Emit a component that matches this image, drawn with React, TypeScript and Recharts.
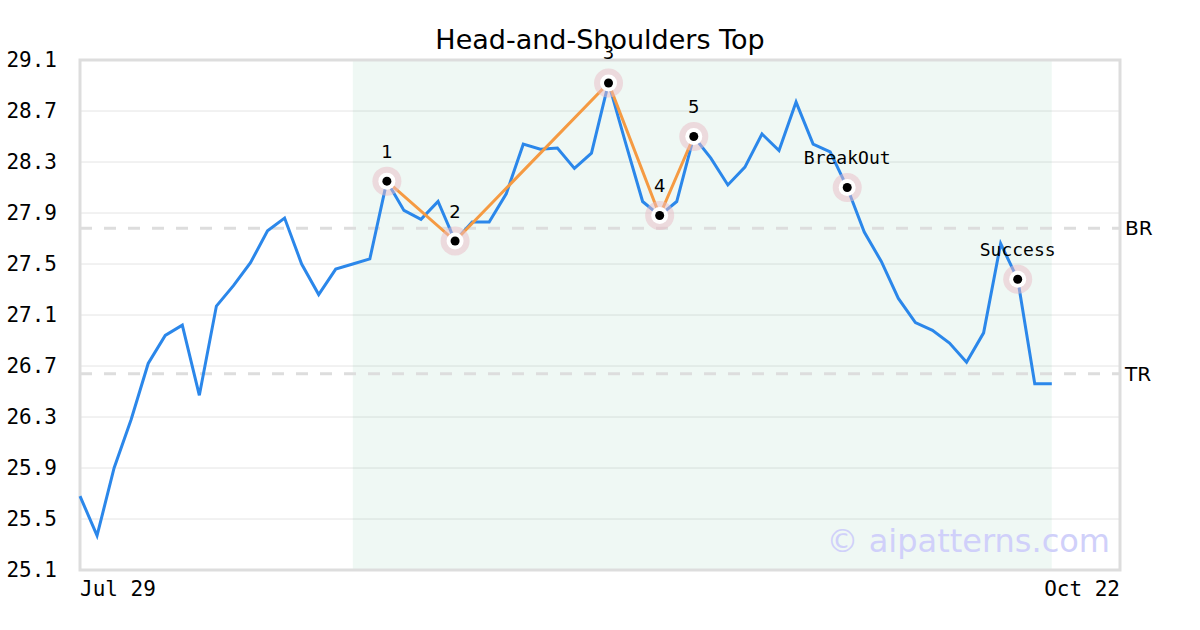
import React from "react";
import {
  ComposedChart,
  Line,
  Scatter,
  XAxis,
  YAxis,
  CartesianGrid,
  ReferenceArea,
  ReferenceLine,
} from "recharts";

// daily closes, Jul 29 onward (index = trading day)
const prices = [
  25.68, 25.37, 25.9, 26.28, 26.72, 26.94, 27.02, 26.47, 27.17, 27.33,
  27.51, 27.76, 27.86, 27.5, 27.26, 27.46, 27.5, 27.54, 28.15, 27.92,
  27.85, 27.99, 27.68, 27.83, 27.83, 28.05, 28.44, 28.4, 28.41, 28.25,
  28.37, 28.92, 28.45, 27.99, 27.88, 27.99, 28.5, 28.33, 28.12, 28.26,
  28.52, 28.39, 28.77, 28.44, 28.38, 28.1, 27.75, 27.52, 27.23, 27.04,
  26.98, 26.88, 26.73, 26.96, 27.66, 27.38, 26.56, 26.56,
];

const patternIdx = [18, 22, 31, 34, 36];
const markerIdx = [18, 22, 31, 34, 36, 45, 55];
const markerLabels = ["1", "2", "3", "4", "5", "BreakOut", "Success"];

const xTicks = [0, 61];
const xTickLabels = ["Jul 29", "Oct 22"];
const yTicks = [25.1, 25.5, 25.9, 26.3, 26.7, 27.1, 27.5, 27.9, 28.3, 28.7, 29.1];

const breakoutLevel = 27.78; // BR
const targetLevel = 26.64; // TR
const zoneStart = 16;
const zoneEnd = 57;

const data = prices.map((p, i) => ({
  i,
  price: p,
  pattern: patternIdx.includes(i) ? p : null,
}));

const markers = markerIdx.map((idx, k) => ({
  i: idx,
  price: prices[idx],
  label: markerLabels[k],
}));

const MONO = "'DejaVu Sans Mono', monospace";
const SANS = "'DejaVu Sans', sans-serif";

function Marker(props: any) {
  const { cx, cy, payload } = props;
  const isNum = /^\d$/.test(payload.label);
  return (
    <g>
      <circle cx={cx} cy={cy} r={14.5} fill="#e9bcc6" fillOpacity={0.5} />
      <circle cx={cx} cy={cy} r={8.5} fill="#fff" />
      <circle cx={cx} cy={cy} r={4.5} fill="#000" />
      <text
        x={cx}
        y={cy - 30}
        textAnchor="middle"
        dominantBaseline="central"
        fontSize={18}
        fontFamily={isNum ? SANS : MONO}
        fill="#000"
      >
        {payload.label}
      </text>
    </g>
  );
}

function XTick(props: any) {
  const { x, y, payload } = props;
  const k = xTicks.indexOf(payload.value);
  return (
    <text
      x={x}
      y={y + 24}
      textAnchor={k === 0 ? "start" : "end"}
      fontSize={21}
      fontFamily={MONO}
      fill="#000"
    >
      {xTickLabels[k]}
    </text>
  );
}

export default function App() {
  return (
    <div style={{ position: "fixed", left: 0, top: 0, width: 1200, height: 630, background: "#fff" }}>
      <div
        style={{
          position: "absolute",
          top: 24,
          left: 0,
          width: 1200,
          textAlign: "center",
          fontFamily: SANS,
          fontSize: 27,
          lineHeight: "32px",
          color: "#000",
        }}
      >
        Head-and-Shoulders Top
      </div>
      <div style={{ position: "absolute", left: 0, top: 0 }}>
        <ComposedChart
          width={1200}
          height={630}
          data={data}
          margin={{ top: 60, right: 80, left: 0, bottom: 0 }}
        >
          <ReferenceArea
            x1={zoneStart}
            x2={zoneEnd}
            y1={25.1}
            y2={29.1}
            fill="#5fb88f"
            fillOpacity={0.1}
            stroke="none"
          />
          <CartesianGrid vertical={false} stroke="#e4e4e4" strokeWidth={1} />
          <ReferenceArea
            x1={0}
            x2={61}
            y1={25.1}
            y2={29.1}
            fill="none"
            stroke="#dddddd"
            strokeWidth={3}
          />
          <XAxis
            type="number"
            dataKey="i"
            domain={[0, 61]}
            ticks={xTicks}
            tick={<XTick />}
            tickLine={false}
            axisLine={false}
            tickSize={0}
            height={60}
          />
          <YAxis
            type="number"
            domain={[25.1, 29.1]}
            ticks={yTicks}
            tickFormatter={(v) => Number(v).toFixed(1)}
            tick={{ fontSize: 21, fontFamily: MONO, fill: "#000" }}
            tickLine={false}
            axisLine={false}
            tickSize={0}
            tickMargin={23}
            width={80}
          />
          <ReferenceLine
            y={breakoutLevel}
            stroke="#dddddd"
            strokeWidth={3}
            strokeDasharray="12 12"
            label={{ value: "BR", position: "right", fill: "#000", fontSize: 20, fontFamily: SANS }}
          />
          <ReferenceLine
            y={targetLevel}
            stroke="#dddddd"
            strokeWidth={3}
            strokeDasharray="12 12"
            label={{ value: "TR", position: "right", fill: "#000", fontSize: 20, fontFamily: SANS }}
          />
          <Line
            type="linear"
            dataKey="price"
            stroke="#2b87ea"
            strokeWidth={3}
            dot={false}
            activeDot={false}
            isAnimationActive={false}
          />
          <Line
            type="linear"
            dataKey="pattern"
            stroke="#f59a42"
            strokeWidth={3}
            dot={false}
            activeDot={false}
            connectNulls
            isAnimationActive={false}
          />
          <Scatter
            data={markers}
            dataKey="price"
            shape={<Marker />}
            isAnimationActive={false}
          />
        </ComposedChart>
      </div>
      <div
        style={{
          position: "absolute",
          right: 90,
          top: 521,
          fontFamily: SANS,
          fontSize: 32,
          lineHeight: "40px",
          color: "#d0d0fa",
          whiteSpace: "nowrap",
        }}
      >
        © aipatterns.com
      </div>
    </div>
  );
}
